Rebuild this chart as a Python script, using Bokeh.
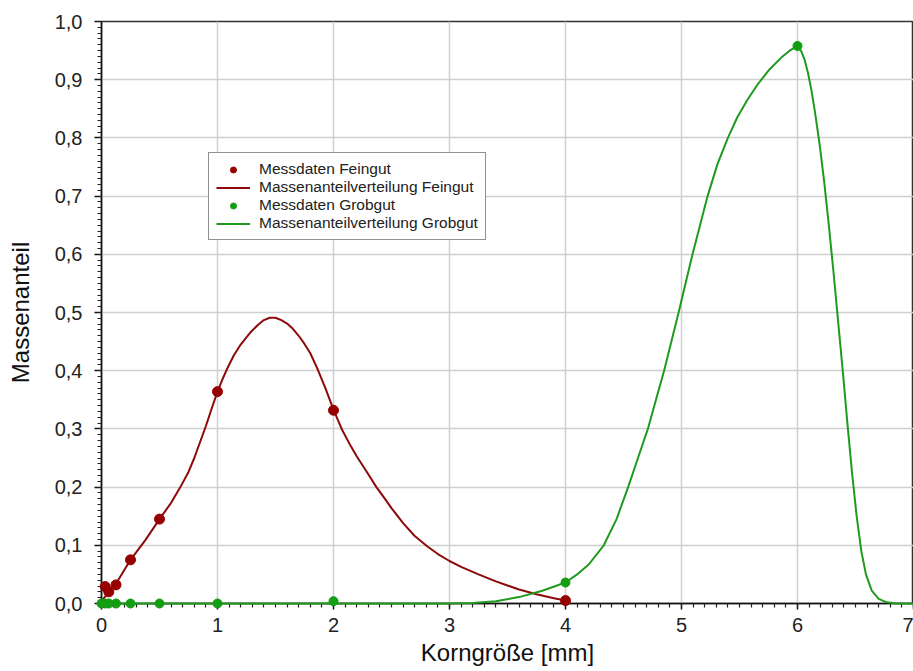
from bokeh.plotting import figure
from bokeh.models import Range1d, Legend, LegendItem, CustomJSTickFormatter, SingleIntervalTicker
from bokeh.embed import file_html
from bokeh.resources import INLINE

# Measured data (Korngröße in mm, Massenanteil)
fein_x = [0.032, 0.063, 0.125, 0.25, 0.5, 1.0, 2.0, 4.0]
fein_y = [0.029, 0.020, 0.032, 0.075, 0.145, 0.364, 0.332, 0.005]
grob_x = [0.0, 0.032, 0.063, 0.125, 0.25, 0.5, 1.0, 2.0, 4.0, 6.0]
grob_y = [0.0, 0.0, 0.0, 0.0, 0.0, 0.0, 0.0, 0.004, 0.036, 0.958]

# Distribution curves
fein_curve_x = [0.0, 0.063, 0.125, 0.25, 0.375, 0.5, 0.6, 0.68, 0.75, 0.8, 0.9, 0.95, 1.0, 1.04,
                1.08, 1.14, 1.2, 1.284, 1.35, 1.4, 1.45, 1.5, 1.55, 1.6, 1.65, 1.7, 1.75, 1.8,
                1.86, 1.93, 2.0, 2.075, 2.15, 2.2, 2.3, 2.37, 2.45, 2.5, 2.6, 2.7, 2.81, 2.9,
                3.0, 3.1, 3.25, 3.4, 3.5, 3.6, 3.75, 3.9, 4.0]
fein_curve_y = [0.004, 0.020, 0.034, 0.075, 0.108, 0.145, 0.173, 0.200, 0.226, 0.250, 0.305,
                0.335, 0.364, 0.384, 0.402, 0.426, 0.445, 0.466, 0.479, 0.487, 0.491, 0.491,
                0.487, 0.481, 0.472, 0.460, 0.446, 0.430, 0.404, 0.370, 0.333, 0.298, 0.270,
                0.253, 0.222, 0.200, 0.178, 0.164, 0.138, 0.116, 0.098, 0.085, 0.073, 0.063,
                0.050, 0.038, 0.031, 0.024, 0.016, 0.009, 0.005]
grob_curve_x = [0.0, 1.0, 2.0, 3.0, 3.2, 3.4, 3.6, 3.8, 4.0, 4.1, 4.2, 4.33, 4.44, 4.54, 4.63,
                4.71, 4.78, 4.85, 4.975, 5.095, 5.225, 5.31, 5.4, 5.48, 5.57, 5.66, 5.76, 5.86,
                5.94, 6.0, 6.03, 6.06, 6.09, 6.12, 6.15, 6.19, 6.23, 6.27, 6.31, 6.35, 6.39,
                6.43, 6.47, 6.51, 6.55, 6.59, 6.64, 6.7, 6.77, 6.85, 7.0]
grob_curve_y = [0.0, 0.0, 0.0, 0.0, 0.001, 0.004, 0.011, 0.022, 0.036, 0.050, 0.067, 0.100,
                0.145, 0.200, 0.253, 0.300, 0.350, 0.400, 0.500, 0.600, 0.700, 0.755, 0.800,
                0.835, 0.866, 0.893, 0.918, 0.938, 0.951, 0.958, 0.950, 0.935, 0.912, 0.882,
                0.845, 0.790, 0.725, 0.650, 0.570, 0.485, 0.400, 0.310, 0.225, 0.150, 0.090,
                0.050, 0.022, 0.008, 0.002, 0.0, 0.0]

RED = "#8c0a0a"
RED_PT = "#960000"
GREEN = "#1f9a1f"
GREEN_PT = "#139d13"
FONT = "Liberation Sans"

p = figure(width=913, height=671, output_backend="svg", toolbar_location=None,
           x_range=Range1d(0, 7), y_range=Range1d(0, 1.0),
           min_border_left=101, min_border_right=0, min_border_top=21, min_border_bottom=68)
p.background_fill_color = "white"
p.border_fill_color = "white"
p.outline_line_color = "#333333"
p.outline_line_width = 1.5

# grid
p.xgrid.grid_line_color = "#cfcfcf"
p.ygrid.grid_line_color = "#cfcfcf"
p.xgrid.grid_line_width = 1.5
p.ygrid.grid_line_width = 1.5

# axes
for ax in (p.xaxis[0], p.yaxis[0]):
    ax.axis_line_color = "#111111"
    ax.axis_line_width = 1.5
    ax.major_tick_line_color = "#111111"
    ax.minor_tick_line_color = "#222222"
    ax.major_tick_line_width = 1.5
    ax.minor_tick_line_width = 1.2
    ax.major_tick_in = 0
    ax.minor_tick_in = 0
    ax.major_label_text_font = FONT
    ax.major_label_text_font_size = "20px"
    ax.major_label_text_color = "#222222"
    ax.axis_label_text_font = FONT
    ax.axis_label_text_font_size = "24px"
    ax.axis_label_text_font_style = "normal"
    ax.axis_label_text_color = "#111111"

p.xaxis.ticker = SingleIntervalTicker(interval=1, num_minor_ticks=10)
p.yaxis.ticker = SingleIntervalTicker(interval=0.1, num_minor_ticks=10)
p.xgrid.ticker = SingleIntervalTicker(interval=1, num_minor_ticks=10)
p.ygrid.ticker = SingleIntervalTicker(interval=0.1, num_minor_ticks=10)
p.xaxis.formatter = CustomJSTickFormatter(code="return tick.toFixed(0);")
p.yaxis.formatter = CustomJSTickFormatter(code="return tick.toFixed(1).replace('.', ',');")
p.xaxis.major_tick_out = 6
p.xaxis.minor_tick_out = 4
p.yaxis.major_tick_out = 7
p.yaxis.minor_tick_out = 4
p.xaxis.major_label_standoff = 8
p.yaxis.major_label_standoff = 12
p.xaxis.axis_label = "Korngröße [mm]"
p.yaxis.axis_label = "Massenanteil"
p.xaxis.axis_label_standoff = 4
p.yaxis.axis_label_standoff = 18

# curves and points
r_fc = p.line(fein_curve_x, fein_curve_y, line_color=RED, line_width=2)
r_gc = p.line(grob_curve_x, grob_curve_y, line_color=GREEN, line_width=2, level="overlay")
r_fp = p.scatter(fein_x, fein_y, size=10, fill_color=RED_PT, line_color=RED_PT, level="overlay")
r_gp = p.scatter(grob_x, grob_y, size=9, fill_color=GREEN_PT, line_color=GREEN_PT, level="overlay")

legend = Legend(items=[
    LegendItem(label="Messdaten Feingut", renderers=[r_fp]),
    LegendItem(label="Massenanteilverteilung Feingut", renderers=[r_fc]),
    LegendItem(label="Messdaten Grobgut", renderers=[r_gp]),
    LegendItem(label="Massenanteilverteilung Grobgut", renderers=[r_gc]),
], location=(107, 363))
legend.label_text_font = FONT
legend.label_text_font_size = "15.5px"
legend.label_text_color = "#222222"
legend.label_height = 15
legend.glyph_height = 15
legend.glyph_width = 34
legend.label_standoff = 9
legend.spacing = 0
legend.padding = 7
legend.margin = 0
legend.border_line_color = "#222222"
legend.border_line_width = 1
legend.background_fill_alpha = 1.0
p.add_layout(legend, "center")

open("out.html", "w").write(file_html(p, INLINE))
